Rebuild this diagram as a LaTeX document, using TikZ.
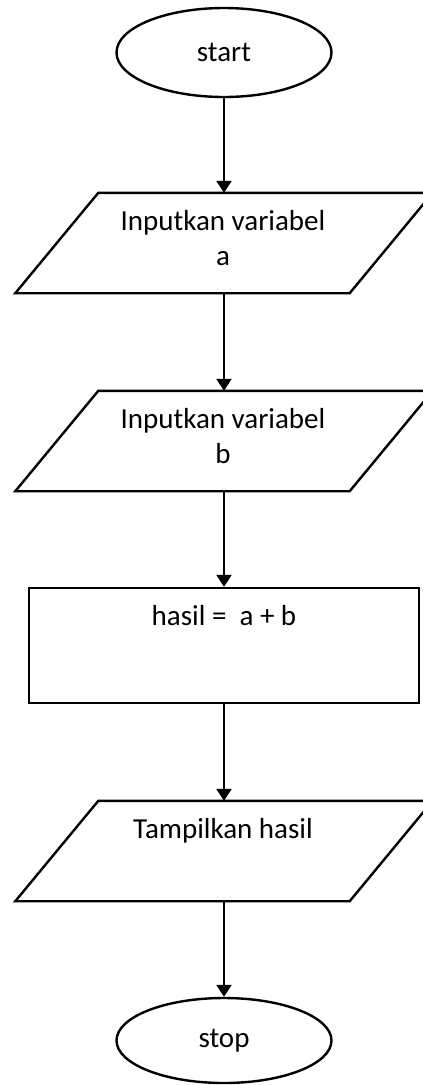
\documentclass[tikz,border=0pt]{standalone}
\usepackage{fontspec}
\setmainfont{Carlito}
\usetikzlibrary{shapes.geometric,arrows.meta,calc}
\begin{document}
\begin{tikzpicture}[x=1pt,y=-1pt,
  every node/.style={inner sep=0pt, font=\fontsize{29}{35.4}\selectfont},
  outl/.style={draw=black, line width=2.4pt},
  term/.style={outl, ellipse, minimum width=215pt, minimum height=89pt},
  iobox/.style={minimum width=334pt, minimum height=100pt},
  procbox/.style={outl, rectangle, minimum width=390pt, minimum height=115pt},
  lbl/.style={anchor=north, align=center},
  flow/.style={line width=2.4pt, -{Triangle[width=15pt,length=12pt]}}
]
\useasboundingbox (0,0) rectangle (423,1085);
\fill[white] (0,0) rectangle (423,1085);

\node[term] (start) at (224,52.5) {start};

\node[iobox] (in1) at (224,243) {};
\draw[outl] ([xshift=41.5pt]in1.north west) -- ([xshift=41.5pt]in1.north east) -- ([xshift=-41.5pt]in1.south east) -- ([xshift=-41.5pt]in1.south west) -- cycle;
\node[lbl] (in1t) at (223,210) {Inputkan variabel\\a};

\node[iobox] (in2) at (224,441) {};
\draw[outl] ([xshift=41.5pt]in2.north west) -- ([xshift=41.5pt]in2.north east) -- ([xshift=-41.5pt]in2.south east) -- ([xshift=-41.5pt]in2.south west) -- cycle;
\node[lbl] (in2t) at (223,408) {Inputkan variabel\\b};

\node[procbox] (calc) at (224,645.5) {};
\node[anchor=base] (calct) at (224,625) {hasil =\ \ a + b};

\node[iobox] (out) at (224,851) {};
\draw[outl] ([xshift=41.5pt]out.north west) -- ([xshift=41.5pt]out.north east) -- ([xshift=-41.5pt]out.south east) -- ([xshift=-41.5pt]out.south west) -- cycle;
\node[anchor=base] (outt) at (223,838) {Tampilkan hasil};

\node[term, minimum height=85pt] (stop) at (224,1040.5) {stop};

\draw[flow] (start) -- (in1);
\draw[flow] (in1) -- (in2);
\draw[flow] (in2) -- (calc);
\draw[flow] (calc) -- (out);
\draw[flow] (out) -- (stop);
\end{tikzpicture}
\end{document}
